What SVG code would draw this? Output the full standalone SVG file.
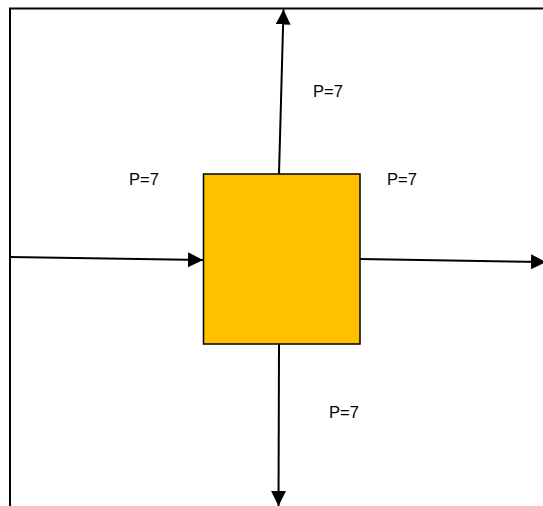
<svg xmlns="http://www.w3.org/2000/svg" width="543" height="506" viewBox="0 0 543 506">
  <style>
    .frame { fill: none; stroke: #000; stroke-width: 2; }
    .conn { fill: none; stroke: #000; stroke-width: 2; marker-end: url(#arrow); }
    .box { fill: #FFC000; stroke: #000; stroke-width: 1.5; }
    .lbl { font-family: "Liberation Sans", Arial, sans-serif; font-size: 16.5px; fill: #000; }
  </style>
  <defs>
    <marker id="arrow" markerUnits="userSpaceOnUse" markerWidth="16" markerHeight="16" refX="15" refY="7.5" orient="auto">
      <path d="M0,0 L15,7.5 L0,15 Z" fill="#000"/>
    </marker>
  </defs>
  <rect width="543" height="506" fill="#fff"/>
  <!-- outer frame: top and left edges -->
  <path class="frame" d="M10,506 L10,8.5 L543,8.5"/>
  <g id="connectors">
    <line class="conn" x1="279" y1="174" x2="283.5" y2="9.5"/>
    <line class="conn" x1="10" y1="257" x2="203" y2="260"/>
    <line class="conn" x1="360" y1="259" x2="546" y2="262"/>
    <line class="conn" x1="279" y1="344" x2="278.5" y2="506"/>
  </g>
  <g id="node-block">
    <rect class="box" x="203.5" y="174" width="156.5" height="170"/>
  </g>
  <g id="labels">
    <text class="lbl" x="129" y="185">P=7</text>
    <text class="lbl" x="387" y="185">P=7</text>
    <text class="lbl" x="313" y="97">P=7</text>
    <text class="lbl" x="329" y="418">P=7</text>
  </g>
</svg>
